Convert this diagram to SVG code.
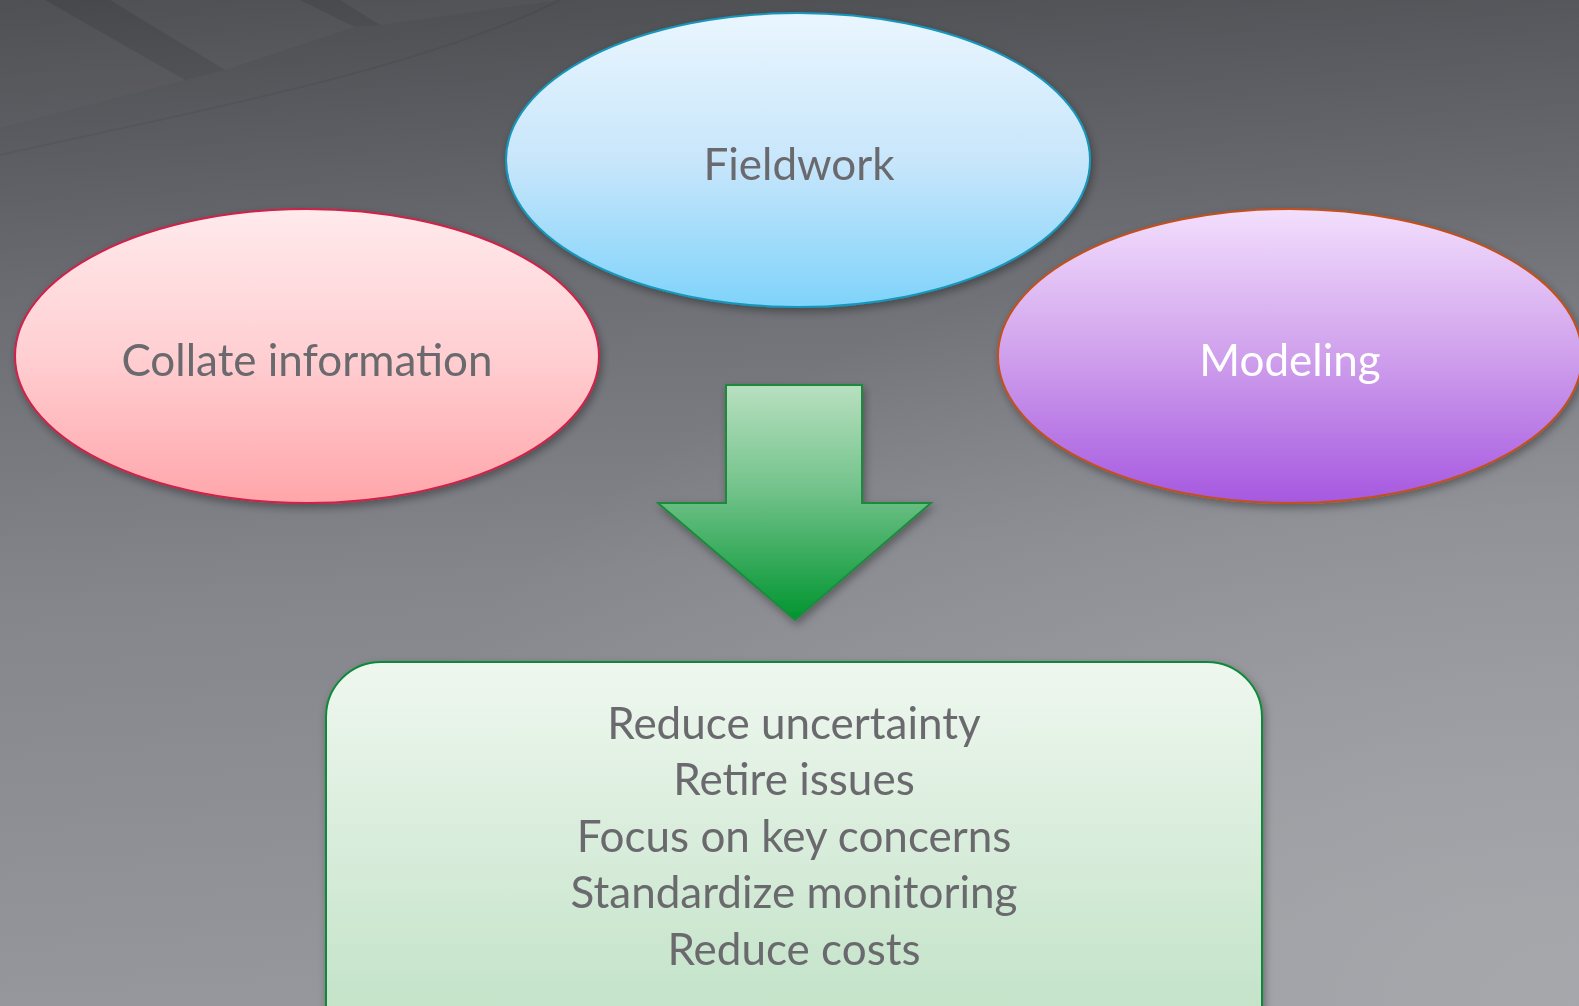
<svg xmlns="http://www.w3.org/2000/svg" width="1579" height="1006" viewBox="0 0 1579 1006">
<defs>
<linearGradient id="bg" x1="0" y1="0" x2="0.1" y2="1">
<stop offset="0" stop-color="#4b4c50"/>
<stop offset="0.3" stop-color="#6c6d72"/>
<stop offset="0.6" stop-color="#85868c"/>
<stop offset="1" stop-color="#96979c"/>
</linearGradient>
<radialGradient id="bgr" cx="1" cy="1" r="0.8">
<stop offset="0" stop-color="#abacb0" stop-opacity="0.8"/>
<stop offset="1" stop-color="#abacb0" stop-opacity="0"/>
</radialGradient>
<linearGradient id="gBlue" x1="0" y1="0" x2="0" y2="1">
<stop offset="0" stop-color="#eaf6fe"/>
<stop offset="0.5" stop-color="#c8e6fb"/>
<stop offset="1" stop-color="#7fd3fa"/>
</linearGradient>
<linearGradient id="gRed" x1="0" y1="0" x2="0" y2="1">
<stop offset="0" stop-color="#ffeaec"/>
<stop offset="0.5" stop-color="#ffcfd2"/>
<stop offset="1" stop-color="#ffa6aa"/>
</linearGradient>
<linearGradient id="gPurple" x1="0" y1="0" x2="0" y2="1">
<stop offset="0" stop-color="#f3dffd"/>
<stop offset="0.5" stop-color="#cfa0ec"/>
<stop offset="1" stop-color="#a658e0"/>
</linearGradient>
<linearGradient id="gArrow" x1="0" y1="0" x2="0" y2="1">
<stop offset="0" stop-color="#b8e0c0"/>
<stop offset="0.45" stop-color="#72c28a"/>
<stop offset="1" stop-color="#009530"/>
</linearGradient>
<linearGradient id="gBox" x1="0" y1="0" x2="0" y2="1">
<stop offset="0" stop-color="#eff7ef"/>
<stop offset="1" stop-color="#bde0c3"/>
</linearGradient>
<filter id="sh" x="-10%" y="-10%" width="120%" height="130%">
<feDropShadow dx="2" dy="4" stdDeviation="4" flood-color="#000" flood-opacity="0.35"/>
</filter>
</defs>
<style>
.lbl{font-family:Lato,"Open Sans","Liberation Sans",sans-serif;font-size:44px;fill:#6a6a6e;text-anchor:middle}
.w{fill:#ffffff}
</style>
<rect x="0" y="0" width="1579" height="1006" fill="url(#bg)"/>
<rect x="0" y="0" width="1579" height="1006" fill="url(#bgr)"/>
<g fill="#ffffff" fill-opacity="0.025">
<polygon points="0,0 45,0 185,80 0,128"/>
<polygon points="110,0 300,0 355,27 225,70"/>
<polygon points="340,0 560,0 380,25"/>
</g>
<g fill="#000000" fill-opacity="0.045">
<polygon points="45,0 110,0 225,70 185,80"/>
<polygon points="300,0 340,0 380,25 355,27"/>
</g>
<path d="M0,155 C200,110 420,70 560,0" stroke="#000000" stroke-opacity="0.05" stroke-width="2" fill="none"/>

<g id="connectors">
<g id="arrow" filter="url(#sh)">
<polygon points="726,385 862,385 862,503 931,503 795,620 658,503 726,503" fill="url(#gArrow)" stroke="#1e8a3c" stroke-width="2"/>
</g>
</g>

<g id="fieldwork" filter="url(#sh)">
<ellipse cx="798" cy="160" rx="292" ry="147" fill="url(#gBlue)" stroke="#1598bd" stroke-width="2"/>
<text class="lbl" x="799" y="180">Fieldwork</text>
</g>
<g id="collate" filter="url(#sh)">
<ellipse cx="307" cy="356" rx="292" ry="147" fill="url(#gRed)" stroke="#d0204a" stroke-width="2"/>
<text class="lbl" x="307" y="376">Collate information</text>
</g>
<g id="modeling" filter="url(#sh)">
<ellipse cx="1290" cy="356" rx="292" ry="147" fill="url(#gPurple)" stroke="#c4501a" stroke-width="2"/>
<text class="lbl w" x="1290" y="376">Modeling</text>
</g>
<g id="outcomes" filter="url(#sh)">
<rect x="326" y="662" width="936" height="400" rx="55" ry="55" fill="url(#gBox)" stroke="#0b8a38" stroke-width="2"/>
<text class="lbl" x="794" y="739">Reduce uncertainty</text>
<text class="lbl" x="794" y="795">Retire issues</text>
<text class="lbl" x="794" y="852">Focus on key concerns</text>
<text class="lbl" x="794" y="908">Standardize monitoring</text>
<text class="lbl" x="794" y="965">Reduce costs</text>
</g>
</svg>
